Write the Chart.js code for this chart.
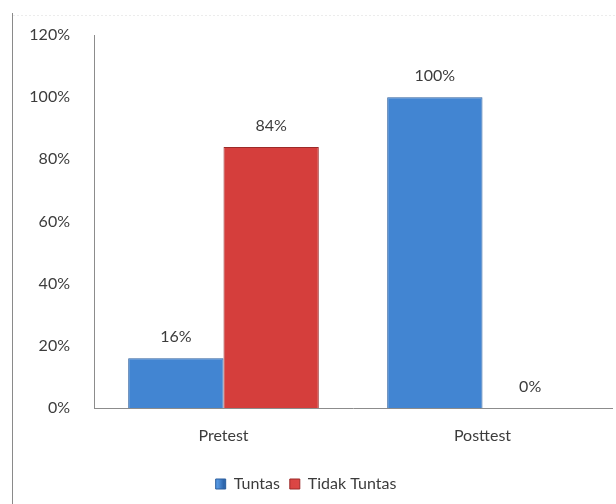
<!DOCTYPE html>
<html>
<head>
<meta charset="utf-8">
<script src="https://cdn.jsdelivr.net/npm/chart.js@4/dist/chart.umd.min.js"></script>
<style>
html,body{margin:0;padding:0;background:#fff;}
#wrap{width:616px;height:504px;position:relative;}
</style>
</head>
<body>
<div id="wrap"><canvas id="c" width="616" height="504"></canvas></div>
<script>
const categories = ["Pretest", "Posttest"];
const seriesNames = ["Tuntas", "Tidak Tuntas"];
const tuntas = [0.16, 1.00];
const tidakTuntas = [0.84, 0.00];
const yTicks = [0, 0.2, 0.4, 0.6, 0.8, 1.0, 1.2];

const FONT = "Lato, 'Open Sans', sans-serif";
const TXT = "#3c3c3c";

const frame = {
  id: 'frame',
  beforeDraw(chart) {
    const ctx = chart.ctx;
    ctx.save();
    ctx.fillStyle = '#fff';
    ctx.fillRect(0, 0, chart.width, chart.height);
    ctx.strokeStyle = '#8a8a8a';
    ctx.lineWidth = 1;
    ctx.beginPath();
    ctx.moveTo(12.5, 13);
    ctx.lineTo(12.5, chart.height);
    ctx.stroke();
    ctx.strokeStyle = '#ececec';
    ctx.setLineDash([2, 2]);
    ctx.beginPath();
    ctx.moveTo(13, 15.5);
    ctx.lineTo(chart.width, 15.5);
    ctx.stroke();
    ctx.restore();
  }
};

const valueLabels = {
  id: 'valueLabels',
  afterDatasetsDraw(chart) {
    const ctx = chart.ctx;
    ctx.save();
    ctx.font = "16px " + FONT;
    ctx.fillStyle = TXT;
    ctx.textAlign = 'center';
    ctx.textBaseline = 'middle';
    chart.data.datasets.forEach((ds, di) => {
      const meta = chart.getDatasetMeta(di);
      meta.data.forEach((bar, i) => {
        const v = ds.data[i];
        ctx.fillText(Math.round(v * 100) + '%', bar.x, bar.y - 21);
      });
    });
    ctx.restore();
  }
};

function grad(ctx, light, mid, dark) {
  const c = ctx.chart;
  const el = ctx.element;
  if (!c.chartArea || !el) return mid;
  const x0 = el.x - el.width / 2, x1 = el.x + el.width / 2;
  if (!isFinite(x0) || !isFinite(x1) || x1 - x0 < 1) return mid;
  const g = c.ctx.createLinearGradient(x0, 0, x1, 0);
  g.addColorStop(0, dark);
  g.addColorStop(0.06, light);
  g.addColorStop(0.5, mid);
  g.addColorStop(0.94, light);
  g.addColorStop(1, dark);
  return g;
}

new Chart(document.getElementById('c'), {
  type: 'bar',
  data: {
    labels: categories,
    datasets: [
      {
        label: seriesNames[0],
        data: tuntas,
        backgroundColor: (ctx) => ctx.type === 'data' ? grad(ctx, '#5496e0', '#4285d2', '#2f67ad') : '#4285d2',
        borderColor: '#2c5f9e',
        borderWidth: 1
      },
      {
        label: seriesNames[1],
        data: tidakTuntas,
        backgroundColor: (ctx) => ctx.type === 'data' ? grad(ctx, '#e04c4a', '#d53e3c', '#ad2e2c') : '#d53e3c',
        borderColor: '#9c2a28',
        borderWidth: 1
      }
    ]
  },
  options: {
    responsive: false,
    animation: false,
    devicePixelRatio: 1,
    layout: { padding: { top: 35, right: 4, left: 0, bottom: 2 } },
    categoryPercentage: 0.736,
    barPercentage: 1.0,
    scales: {
      x: {
        afterFit(scale) { scale.height = 58; },
        grid: { display: false, drawTicks: false },
        border: { display: true, color: '#8c8c8c', width: 1 },
        ticks: { color: TXT, font: { family: FONT, size: 16 }, padding: 18 }
      },
      y: {
        min: 0, max: 1.2,
        afterBuildTicks(scale) { scale.ticks = yTicks.map(v => ({ value: v })); },
        afterFit(scale) { scale.width = 94; },
        grid: { display: false, drawTicks: false },
        border: { display: true, color: '#8c8c8c', width: 1 },
        ticks: {
          color: TXT, font: { family: FONT, size: 16 }, padding: 24,
          callback: (v) => Math.round(v * 100) + '%'
        }
      }
    },
    plugins: {
      legend: {
        position: 'bottom',
        labels: {
          color: TXT, font: { family: FONT, size: 16 },
          boxWidth: 10, boxHeight: 10, padding: 10
        }
      },
      tooltip: { enabled: false }
    }
  },
  plugins: [frame, valueLabels]
});
</script>
</body>
</html>
